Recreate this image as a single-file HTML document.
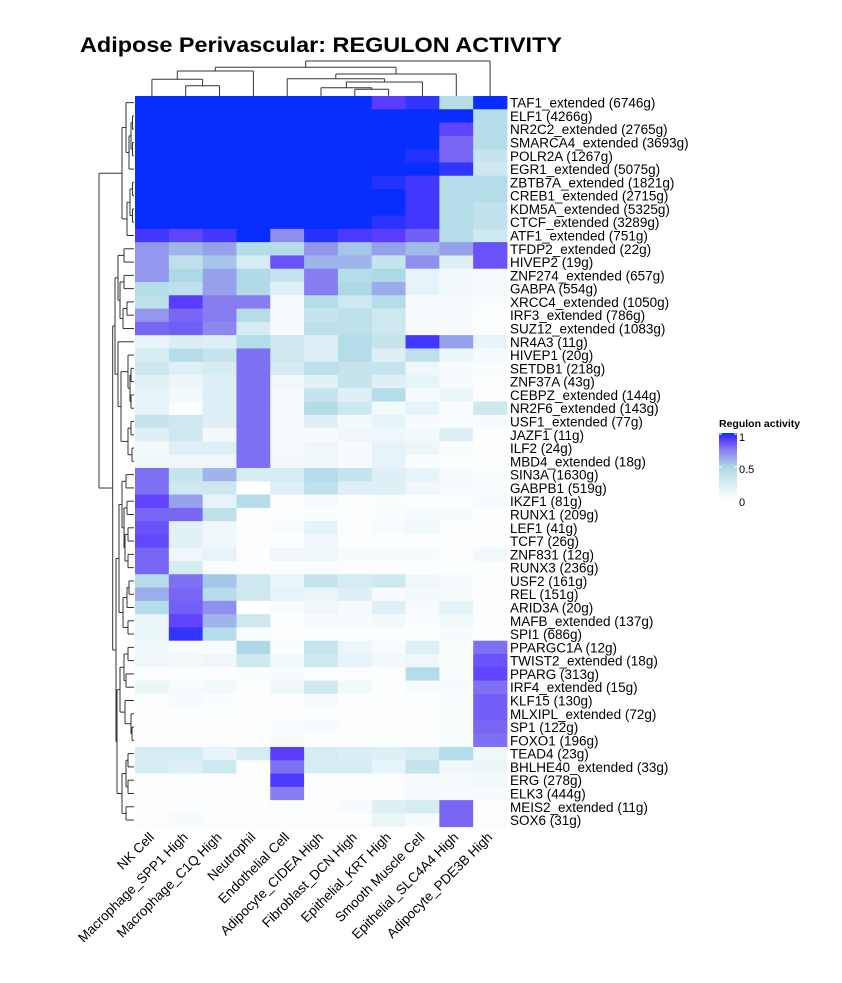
<!DOCTYPE html>
<html><head><meta charset="utf-8"><style>
html,body{margin:0;padding:0;background:#fff;}
svg{display:block;font-family:"Liberation Sans",Arial,sans-serif;}
</style></head><body>
<svg id="chart" width="842" height="983" viewBox="0 0 842 983">
<text x="80" y="52" font-size="21" font-weight="bold" textLength="482" lengthAdjust="spacingAndGlyphs">Adipose Perivascular: REGULON ACTIVITY</text>
<g id="cells"></g>
<g id="rowlabels"></g>
<g id="collabels"></g>
<g id="rowdend" stroke="#333" stroke-width="1" fill="none"></g>
<g id="coldend" stroke="#333" stroke-width="1" fill="none"></g>
<g>
<defs><linearGradient id="lg" x1="0" y1="1" x2="0" y2="0">
<stop offset="0" stop-color="#ffffff"/><stop offset="0.5" stop-color="#add8e6"/><stop offset="0.75" stop-color="#877df0"/><stop offset="0.9" stop-color="#5a3cff"/><stop offset="1" stop-color="#0a2dff"/></linearGradient></defs>
<text x="719" y="427" font-size="10.5" font-weight="bold">Regulon activity</text>
<rect x="719" y="433" width="18" height="67" fill="url(#lg)"/>
<line x1="719" y1="434" x2="722" y2="434" stroke="#fff"/><line x1="734" y1="434" x2="737" y2="434" stroke="#fff"/>
<line x1="719" y1="467" x2="722" y2="467" stroke="#fff"/><line x1="734" y1="467" x2="737" y2="467" stroke="#fff"/>
<text x="739" y="441" font-size="11">1</text>
<text x="739" y="473" font-size="11">0.5</text>
<text x="739" y="506" font-size="11">0</text>
</g>
</svg>
<script>
const columns = ["NK Cell","Macrophage_SPP1 High","Macrophage_C1Q High","Neutrophil","Endothelial Cell","Adipocyte_CIDEA High","Fibroblast_DCN High","Epithelial_KRT High","Smooth Muscle Cell","Epithelial_SLC4A4 High","Adipocyte_PDE3B High"];
const rows = ["TAF1_extended (6746g)","ELF1 (4266g)","NR2C2_extended (2765g)","SMARCA4_extended (3693g)","POLR2A (1267g)","EGR1_extended (5075g)","ZBTB7A_extended (1821g)","CREB1_extended (2715g)","KDM5A_extended (5325g)","CTCF_extended (3289g)","ATF1_extended (751g)","TFDP2_extended (22g)","HIVEP2 (19g)","ZNF274_extended (657g)","GABPA (554g)","XRCC4_extended (1050g)","IRF3_extended (786g)","SUZ12_extended (1083g)","NR4A3 (11g)","HIVEP1 (20g)","SETDB1 (218g)","ZNF37A (43g)","CEBPZ_extended (144g)","NR2F6_extended (143g)","USF1_extended (77g)","JAZF1 (11g)","ILF2 (24g)","MBD4_extended (18g)","SIN3A (1630g)","GABPB1 (519g)","IKZF1 (81g)","RUNX1 (209g)","LEF1 (41g)","TCF7 (26g)","ZNF831 (12g)","RUNX3 (236g)","USF2 (161g)","REL (151g)","ARID3A (20g)","MAFB_extended (137g)","SPI1 (686g)","PPARGC1A (12g)","TWIST2_extended (18g)","PPARG (313g)","IRF4_extended (15g)","KLF15 (130g)","MLXIPL_extended (72g)","SP1 (122g)","FOXO1 (196g)","TEAD4 (23g)","BHLHE40_extended (33g)","ERG (278g)","ELK3 (444g)","MEIS2_extended (11g)","SOX6 (31g)"];
const values = [
[1,1,1,1,1,1,1,0.9,0.95,0.45,1],
[1,1,1,1,1,1,1,1,1,1,0.45],
[1,1,1,1,1,1,1,1,1,0.88,0.45],
[1,1,1,1,1,1,1,1,1,0.8,0.45],
[1,1,1,1,1,1,1,1,0.97,0.8,0.35],
[1,1,1,1,1,1,1,1,1,0.95,0.3],
[1,1,1,1,1,1,1,0.97,0.93,0.45,0.45],
[1,1,1,1,1,1,1,1,0.93,0.45,0.45],
[1,1,1,1,1,1,1,1,0.93,0.45,0.38],
[1,1,1,1,1,1,1,0.96,0.93,0.45,0.38],
[0.93,0.88,0.93,1,0.7,0.97,0.92,0.9,0.82,0.45,0.3],
[0.68,0.6,0.65,0.45,0.45,0.68,0.55,0.65,0.58,0.65,0.85],
[0.68,0.4,0.55,0.25,0.85,0.6,0.6,0.35,0.7,0.2,0.85],
[0.68,0.5,0.65,0.48,0.35,0.75,0.45,0.5,0.15,0.08,0.05],
[0.45,0.4,0.65,0.48,0.2,0.75,0.5,0.62,0.15,0.08,0.05],
[0.4,0.9,0.75,0.75,0.05,0.45,0.3,0.45,0.05,0.05,0.03],
[0.68,0.8,0.75,0.45,0.05,0.35,0.4,0.3,0.05,0.05,0.02],
[0.8,0.82,0.72,0.25,0.05,0.4,0.4,0.3,0.05,0.05,0.02],
[0.15,0.22,0.2,0.45,0.3,0.2,0.45,0.35,0.93,0.65,0.15],
[0.25,0.45,0.35,0.78,0.3,0.2,0.45,0.2,0.4,0.12,0.06],
[0.3,0.2,0.25,0.78,0.25,0.4,0.35,0.35,0.1,0.05,0.03],
[0.18,0.12,0.2,0.78,0.08,0.18,0.35,0.2,0.15,0.05,0.02],
[0.15,0.08,0.2,0.78,0.06,0.35,0.2,0.45,0.06,0.12,0.02],
[0.15,0.03,0.2,0.78,0.05,0.45,0.3,0.08,0.15,0.04,0.3],
[0.35,0.3,0.2,0.78,0.05,0.2,0.08,0.15,0.05,0.03,0.05],
[0.2,0.3,0.08,0.78,0.05,0.05,0.1,0.1,0.08,0.2,0.02],
[0.08,0.2,0.2,0.78,0.05,0.1,0.05,0.15,0.12,0.03,0.02],
[0.1,0.1,0.1,0.78,0.08,0.1,0.05,0.15,0.03,0.02,0.02],
[0.78,0.35,0.6,0.25,0.25,0.45,0.35,0.2,0.15,0.05,0.03],
[0.78,0.3,0.3,0,0.2,0.4,0.2,0.2,0.1,0.05,0.03],
[0.88,0.65,0.15,0.45,0.02,0.05,0.02,0.03,0.02,0.02,0.05],
[0.8,0.8,0.4,0.02,0.02,0.03,0.02,0.03,0.06,0.05,0.02],
[0.85,0.18,0.1,0.02,0.05,0.15,0.02,0.05,0.08,0.02,0.02],
[0.87,0.18,0.1,0.02,0.02,0.1,0.02,0.02,0.02,0.02,0.02],
[0.8,0.1,0.15,0.02,0.1,0.1,0.05,0.05,0.05,0.02,0.08],
[0.8,0.25,0.03,0.02,0.03,0.03,0.02,0.02,0.02,0.02,0.02],
[0.45,0.78,0.55,0.3,0.12,0.35,0.25,0.3,0.1,0.05,0.02],
[0.62,0.8,0.45,0.3,0.15,0.12,0.2,0.05,0.08,0.05,0.02],
[0.45,0.82,0.7,0,0.05,0.1,0.06,0.2,0.05,0.15,0.02],
[0.12,0.88,0.6,0.3,0.02,0.05,0.05,0.08,0.03,0.08,0.02],
[0.12,0.95,0.45,0.03,0.02,0.02,0.02,0.02,0.02,0.05,0.02],
[0.1,0.05,0.05,0.5,0.03,0.35,0.12,0.05,0.2,0.03,0.78],
[0.1,0.08,0.1,0.3,0.08,0.3,0.15,0.08,0.1,0.03,0.85],
[0.02,0.02,0.02,0.03,0.05,0.02,0.02,0.02,0.45,0.03,0.88],
[0.12,0.05,0.08,0.02,0.1,0.3,0.08,0.02,0.05,0.05,0.78],
[0.02,0.05,0.03,0.02,0.02,0.05,0.02,0.02,0.02,0.03,0.82],
[0.02,0.02,0.02,0.02,0.02,0.02,0.02,0.02,0.02,0.03,0.82],
[0.02,0.02,0.02,0.02,0.03,0.05,0.02,0.02,0.02,0.03,0.8],
[0.02,0.02,0.02,0.02,0.05,0.02,0.02,0.02,0.02,0.03,0.78],
[0.25,0.25,0.15,0.25,0.9,0.25,0.22,0.2,0.25,0.45,0.1],
[0.25,0.2,0.3,0.02,0.78,0.25,0.25,0.15,0.35,0.08,0.12],
[0.02,0.02,0.02,0.02,0.92,0.02,0.02,0.02,0.05,0.05,0.08],
[0.02,0.02,0.02,0.02,0.75,0.02,0.02,0.02,0.05,0.05,0.05],
[0.02,0.02,0.02,0.02,0.03,0.02,0.05,0.2,0.25,0.8,0.02],
[0.02,0.05,0.02,0.02,0.02,0.02,0.02,0.12,0.05,0.8,0.02]
];
// dendrogram merge heights: [height, left, right]
const colTree = [61,[67.3,[71,[79.3,0,[85.7,1,2]],3],[74,[78.7,4,[82,[87.7,5,[89.3,6,7]],8]],9]],10];
const rowTree = [99,
 [122,[126,0,[129,[131,[132.5,1,2],[132.5,3,4]],5]],[127,[130,[132.5,6,7],[132.5,8,9]],10]],
 [112.7,
  [115,[118,[124,11,12],[120,[124,13,14],[123,[127,15,16],17]]],
       [118,18,[121,[128,19,[130,[131,20,21],[131,22,23]]],[128,[131,24,25],[132,26,27]]]]],
  [116,[119,[122,[126,28,29],[124,[127,30,31],[125,[128,32,33],[128,34,35]]]],[123,[127,[129,36,37],38],[128,39,40]]],
       [117,[120,[124,[128,41,42],[126,43,44]],[125,45,[131,46,[132,47,48]]]],
            [122,[126,[128,49,50],[128,51,52]],[126,53,54]]]]]];

const X0=135, CW=372/11, Y0=96, RH=730.7/55;
const xScale = c => X0 + c*CW;
const yScale = r => Y0 + r*RH;
const stops=[[0,[255,255,255]],[0.5,[173,216,230]],[0.75,[135,125,240]],[0.9,[90,60,255]],[1,[10,45,255]]];
function color(v){
  for(let i=1;i<stops.length;i++){ if(v<=stops[i][0]){const a=stops[i-1],b=stops[i];const t=(v-a[0])/(b[0]-a[0]);
    return 'rgb('+a[1].map((x,k)=>Math.round(x+(b[1][k]-x)*t)).join(',')+')';}}
  return 'rgb(10,45,255)';
}
const NS='http://www.w3.org/2000/svg';
const cells=document.getElementById('cells');
values.forEach((row,r)=>row.forEach((v,c)=>{
  const el=document.createElementNS(NS,'rect');
  el.setAttribute('x',xScale(c)); el.setAttribute('y',yScale(r));
  el.setAttribute('width',CW+0.4); el.setAttribute('height',RH+0.4);
  el.setAttribute('fill',color(v));
  
  
  cells.appendChild(el);
}));
const rl=document.getElementById('rowlabels');
rows.forEach((name,r)=>{
  const t=document.createElementNS(NS,'text');
  t.setAttribute('x',510); t.setAttribute('y',yScale(r)+RH/2+5);
  t.setAttribute('font-size','13.5'); t.textContent=name;
  
  
  rl.appendChild(t);
});
const cl=document.getElementById('collabels');
columns.forEach((name,c)=>{
  const cx=xScale(c)+CW/2+3, cy=838;
  const t=document.createElementNS(NS,'text');
  t.setAttribute('x',cx); t.setAttribute('y',cy);
  t.setAttribute('font-size','13.5'); t.setAttribute('text-anchor','end');
  t.setAttribute('transform','rotate(-45 '+cx+' '+cy+')');
  t.textContent=name;
  
  
  cl.appendChild(t);
});
function line(g,x1,y1,x2,y2){
  const l=document.createElementNS(NS,'line');
  l.setAttribute('x1',x1);l.setAttribute('y1',y1);l.setAttribute('x2',x2);l.setAttribute('y2',y2);
  
  
  g.appendChild(l);
}
const cd=document.getElementById('coldend');
function drawCol(n){
  if(typeof n==='number') return [xScale(n)+CW/2, Y0];
  const a=drawCol(n[1]), b=drawCol(n[2]);
  line(cd,a[0],a[1],a[0],n[0]); line(cd,b[0],b[1],b[0],n[0]); line(cd,a[0],n[0],b[0],n[0]);
  return [(a[0]+b[0])/2, n[0]];
}
drawCol(colTree);
const rd=document.getElementById('rowdend');
function drawRow(n){
  if(typeof n==='number') return [yScale(n)+RH/2, X0-1];
  const a=drawRow(n[1]), b=drawRow(n[2]);
  line(rd,a[1],a[0],n[0],a[0]); line(rd,b[1],b[0],n[0],b[0]); line(rd,n[0],a[0],n[0],b[0]);
  return [(a[0]+b[0])/2, n[0]];
}
drawRow(rowTree);
</script>
</body></html>
